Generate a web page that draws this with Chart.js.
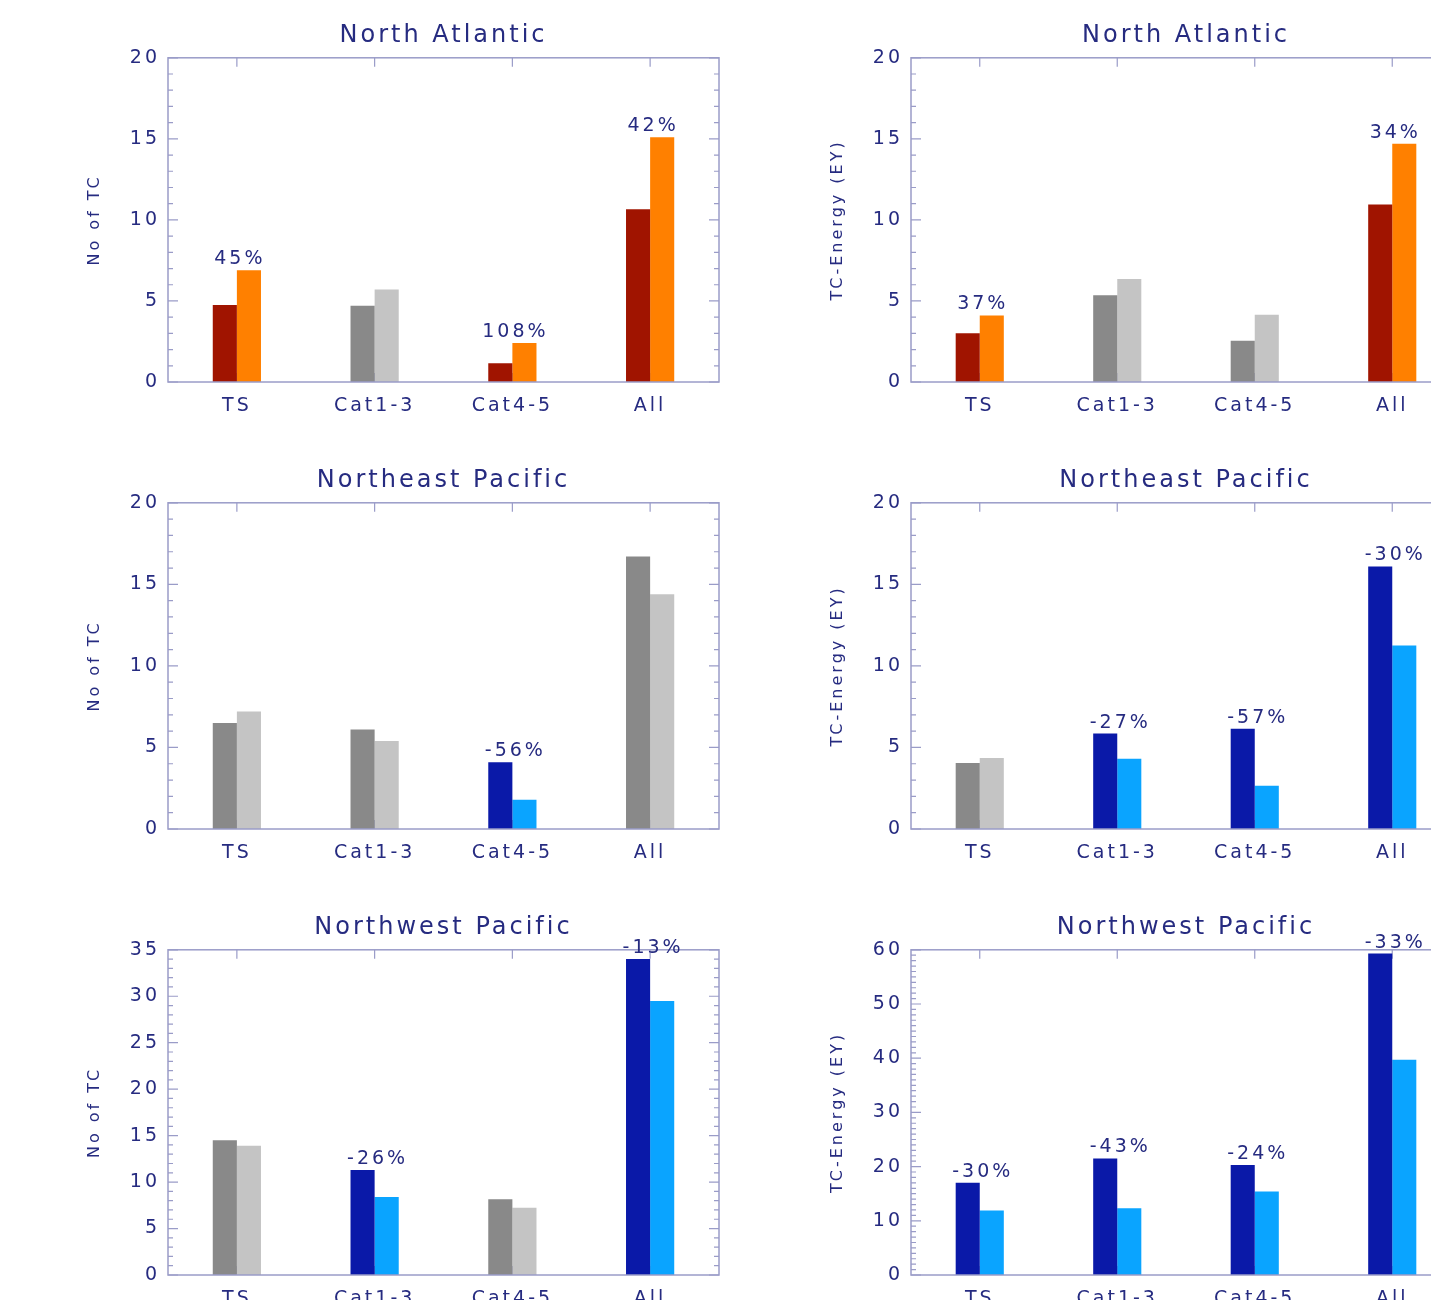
<!DOCTYPE html>
<html>
<head>
<meta charset="utf-8">
<title>TC counts and energy</title>
<script src="https://cdn.jsdelivr.net/npm/chart.js@4"></script>
<style>
  html, body { margin: 0; padding: 0; background: #ffffff; overflow: hidden; }
  #page { position: relative; width: 1431px; height: 1300px; overflow: hidden; }
  #page canvas { position: absolute; }
</style>
</head>
<body>
<div id="page"></div>
<script>
const categories = ['TS', 'Cat1-3', 'Cat4-5', 'All'];

// North Atlantic
const naCountPresent = [4.75, 4.7, 1.15, 10.65];
const naCountFuture = [6.9, 5.7, 2.4, 15.1];
const naCountPct = ['45%', null, '108%', '42%'];
const naEnergyPresent = [3.0, 5.35, 2.55, 10.95];
const naEnergyFuture = [4.1, 6.35, 4.15, 14.7];
const naEnergyPct = ['37%', null, null, '34%'];

// Northeast Pacific
const nepCountPresent = [6.5, 6.1, 4.1, 16.7];
const nepCountFuture = [7.2, 5.4, 1.8, 14.4];
const nepCountPct = [null, null, '-56%', null];
const nepEnergyPresent = [4.05, 5.85, 6.15, 16.1];
const nepEnergyFuture = [4.35, 4.3, 2.65, 11.25];
const nepEnergyPct = [null, '-27%', '-57%', '-30%'];

// Northwest Pacific
const nwpCountPresent = [14.5, 11.3, 8.15, 34.0];
const nwpCountFuture = [13.9, 8.4, 7.25, 29.5];
const nwpCountPct = [null, '-26%', null, '-13%'];
const nwpEnergyPresent = [17.0, 21.5, 20.3, 59.3];
const nwpEnergyFuture = [11.9, 12.3, 15.4, 39.7];
const nwpEnergyPct = ['-30%', '-43%', '-24%', '-33%'];

// y axis ranges
const countMax = [20, 20, 35];
const countStep = [5, 5, 5];
const energyMax = [20, 20, 60];
const energyStep = [5, 5, 10];

const textColor = '#262b80';
const frameColor = '#9a9cc8';
const FONT = "'DejaVu Sans', sans-serif";

const colors = {
    up: ['#a01400', '#ff8000'],
    down: ['#0a19a8', '#0aa4ff'],
    none: ['#898989', '#c4c4c4'],
};

// bar colour follows the sign of the change (grey when no label)
function pairColors(pct, k) {
    return pct.map(p => {
        if (!p) return colors.none[k];
        return p.startsWith('-') ? colors.down[k] : colors.up[k];
    });
}

const framePlugin = {
    id: 'idlFrame',
    beforeDraw(chart) {
        chart.ctx.letterSpacing = '3px';
    },
    beforeDatasetsDraw(chart) {
        const { ctx, chartArea: a, scales: { x, y } } = chart;
        const major = y.options.ticks.stepSize;
        ctx.save();
        ctx.strokeStyle = frameColor;
        ctx.lineWidth = 1.2;
        ctx.beginPath();
        for (let v = y.min; v <= y.max; v += 1) {
            const py = y.getPixelForValue(v);
            const len = v % major === 0 ? 10 : 5;
            ctx.moveTo(a.left, py); ctx.lineTo(a.left + len, py);
            ctx.moveTo(a.right, py); ctx.lineTo(a.right - len, py);
        }
        categories.forEach((c, i) => {
            const px = x.getPixelForValue(i);
            ctx.moveTo(px, a.top); ctx.lineTo(px, a.top + 9);
            ctx.moveTo(px, a.bottom); ctx.lineTo(px, a.bottom - 9);
        });
        ctx.stroke();
        ctx.restore();
    },
    afterDatasetsDraw(chart, args, opts) {
        const { ctx, chartArea: a, scales: { x } } = chart;
        ctx.save();
        ctx.strokeStyle = frameColor;
        ctx.lineWidth = 1.5;
        ctx.strokeRect(a.left, a.top, a.width, a.height);

        // percentage change labels above the taller bar
        ctx.fillStyle = textColor;
        ctx.font = '19px ' + FONT;
        ctx.textAlign = 'center';
        ctx.textBaseline = 'middle';
        const m0 = chart.getDatasetMeta(0).data;
        const m1 = chart.getDatasetMeta(1).data;
        (opts.pct || []).forEach((p, i) => {
            if (!p) return;
            const top = Math.min(m0[i].y, m1[i].y);
            ctx.fillText(p, x.getPixelForValue(i) + 3, top - 11);
        });
        ctx.restore();
    }
};

function makePanel(box, title, yTitle, present, future, pct, yMax, yStep) {
    const margin = 110;
    const canvas = document.createElement('canvas');
    const w = (box.right - box.left) + margin * 2;
    const h = (box.bottom - box.top) + 55 + 50;
    canvas.width = w;
    canvas.height = h;
    canvas.style.left = (box.left - margin) + 'px';
    canvas.style.top = (box.top - 55) + 'px';
    canvas.style.width = w + 'px';
    canvas.style.height = h + 'px';
    document.getElementById('page').appendChild(canvas);

    new Chart(canvas.getContext('2d'), {
        type: 'bar',
        data: {
            labels: categories,
            datasets: [
                { data: present, backgroundColor: pairColors(pct, 0) },
                { data: future, backgroundColor: pairColors(pct, 1) },
            ],
        },
        options: {
            responsive: false,
            animation: false,
            devicePixelRatio: 1,
            layout: { padding: 0 },
            datasets: { bar: { barPercentage: 1, categoryPercentage: 0.35, borderWidth: 0 } },
            plugins: {
                legend: { display: false },
                tooltip: { enabled: false },
                title: {
                    display: true,
                    text: title,
                    color: textColor,
                    font: { family: FONT, size: 24, weight: 'normal' },
                    padding: { top: 18, bottom: 8 },
                },
                idlFrame: { pct: pct },
            },
            scales: {
                x: {
                    offset: true,
                    grid: { display: false, drawTicks: false },
                    border: { display: false },
                    ticks: { color: textColor, padding: 13, font: { family: FONT, size: 19 } },
                    afterFit: s => { s.height = 50; },
                },
                y: {
                    min: 0,
                    max: yMax,
                    grid: { display: false, drawTicks: false },
                    border: { display: false },
                    ticks: { stepSize: yStep, color: textColor, padding: 8, font: { family: FONT, size: 19 } },
                    title: {
                        display: true,
                        text: yTitle,
                        color: textColor,
                        font: { family: FONT, size: 16 },
                        padding: { top: 27, bottom: 0 },
                    },
                    afterFit: s => { s.width = margin; },
                },
                // empty right axis, only keeps the plot centred under the title
                yRight: {
                    position: 'right',
                    min: 0,
                    max: yMax,
                    grid: { display: false, drawTicks: false },
                    border: { display: false },
                    ticks: { display: false },
                    afterFit: s => { s.width = margin; },
                },
            },
        },
        plugins: [framePlugin],
    });
}

const rows = [
    { top: 58, bottom: 382 },
    { top: 503, bottom: 829 },
    { top: 950, bottom: 1275 },
];
const leftCol = { left: 168, right: 719 };
const rightCol = { left: 911, right: 1461 };
const regionTitles = ['North Atlantic', 'Northeast Pacific', 'Northwest Pacific'];
const countPresent = [naCountPresent, nepCountPresent, nwpCountPresent];
const countFuture = [naCountFuture, nepCountFuture, nwpCountFuture];
const countPct = [naCountPct, nepCountPct, nwpCountPct];
const energyPresent = [naEnergyPresent, nepEnergyPresent, nwpEnergyPresent];
const energyFuture = [naEnergyFuture, nepEnergyFuture, nwpEnergyFuture];
const energyPct = [naEnergyPct, nepEnergyPct, nwpEnergyPct];

rows.forEach((r, i) => {
    makePanel({ left: leftCol.left, right: leftCol.right, top: r.top, bottom: r.bottom },
        regionTitles[i], 'No of TC', countPresent[i], countFuture[i], countPct[i], countMax[i], countStep[i]);
    makePanel({ left: rightCol.left, right: rightCol.right, top: r.top, bottom: r.bottom },
        regionTitles[i], 'TC-Energy (EY)', energyPresent[i], energyFuture[i], energyPct[i], energyMax[i], energyStep[i]);
});
</script>
</body>
</html>
